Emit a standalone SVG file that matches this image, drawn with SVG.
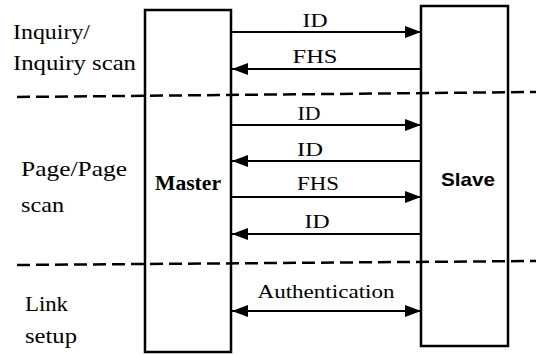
<svg xmlns="http://www.w3.org/2000/svg" width="536" height="355" viewBox="0 0 536 355">
<style>
.lbl{font-size:21px;fill:#000}
.msg{font-size:18px;fill:#000;text-anchor:middle}
.box{fill:#fff;stroke:#000;stroke-width:2.5}
.arr{stroke:#000;stroke-width:2.2;fill:none}
.dash{stroke:#000;stroke-width:2.5;stroke-dasharray:13 6;fill:none}
</style>
<defs>
<marker id="ah" markerWidth="16" markerHeight="12" refX="16" refY="6" orient="auto-start-reverse" markerUnits="userSpaceOnUse">
<path d="M0,0 L16,6 L0,12 Z" fill="#000"/>
</marker>
</defs>
<g id="phase-labels" font-family="Liberation Serif, Times New Roman, serif">
<text class="lbl" x="13" y="39" textLength="77" lengthAdjust="spacingAndGlyphs">Inquiry/</text>
<text class="lbl" x="13" y="70" textLength="123" lengthAdjust="spacingAndGlyphs">Inquiry  scan</text>
<text class="lbl" x="21" y="176" textLength="106" lengthAdjust="spacingAndGlyphs">Page/Page</text>
<text class="lbl" x="21" y="212" textLength="43" lengthAdjust="spacingAndGlyphs">scan</text>
<text class="lbl" x="25" y="311" textLength="43" lengthAdjust="spacingAndGlyphs">Link</text>
<text class="lbl" x="25" y="343" textLength="52" lengthAdjust="spacingAndGlyphs">setup</text>
</g>
<g id="master">
<rect class="box" x="145" y="10" width="86" height="342"/>
<text x="155" y="190" textLength="66" lengthAdjust="spacingAndGlyphs" font-family="Liberation Serif, serif" font-weight="bold" font-size="20">Master</text>
</g>
<g id="slave">
<rect class="box" x="421" y="6" width="87" height="340"/>
<text x="441" y="186" textLength="54" lengthAdjust="spacingAndGlyphs" font-family="Liberation Sans, sans-serif" font-weight="bold" font-size="19">Slave</text>
</g>
<g id="dividers">
<line class="dash" x1="17" y1="97" x2="536" y2="92"/>
<line class="dash" x1="17" y1="265" x2="536" y2="261"/>
</g>
<g id="connectors">
<line class="arr" x1="232" y1="32" x2="421" y2="32" marker-end="url(#ah)"/>
<line class="arr" x1="421" y1="69" x2="232" y2="69" marker-end="url(#ah)"/>
<line class="arr" x1="232" y1="125" x2="421" y2="125" marker-end="url(#ah)"/>
<line class="arr" x1="421" y1="161" x2="232" y2="161" marker-end="url(#ah)"/>
<line class="arr" x1="232" y1="197" x2="421" y2="197" marker-end="url(#ah)"/>
<line class="arr" x1="421" y1="234" x2="232" y2="234" marker-end="url(#ah)"/>
<line class="arr" x1="232" y1="311" x2="421" y2="311" marker-start="url(#ah)" marker-end="url(#ah)"/>
</g>
<g id="message-labels" font-family="Liberation Serif, Times New Roman, serif">
<text class="msg" x="315" y="27" textLength="25" lengthAdjust="spacingAndGlyphs">ID</text>
<text class="msg" x="315" y="63" textLength="45" lengthAdjust="spacingAndGlyphs">FHS</text>
<text class="msg" x="309" y="120" textLength="23" lengthAdjust="spacingAndGlyphs">ID</text>
<text class="msg" x="310" y="156" textLength="26" lengthAdjust="spacingAndGlyphs">ID</text>
<text class="msg" x="318" y="190" textLength="42" lengthAdjust="spacingAndGlyphs">FHS</text>
<text class="msg" x="317" y="228" textLength="25" lengthAdjust="spacingAndGlyphs">ID</text>
<text class="msg" x="326" y="298" textLength="137" lengthAdjust="spacingAndGlyphs">Authentication</text>
</g>
</svg>
